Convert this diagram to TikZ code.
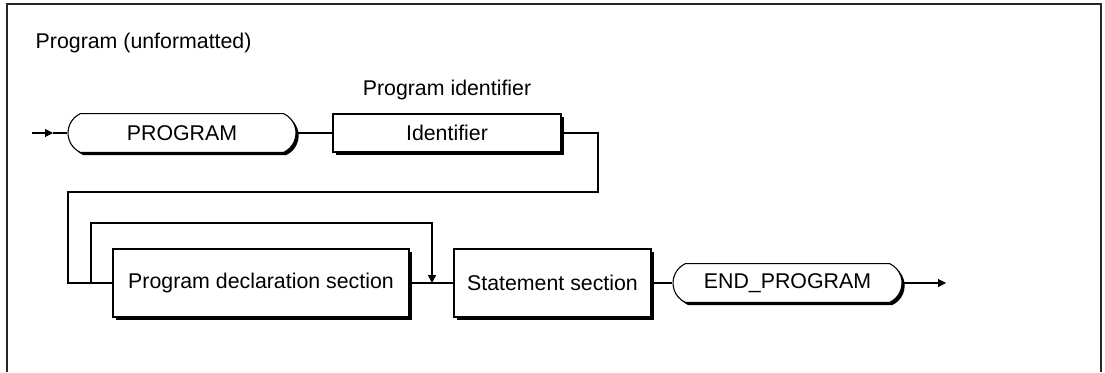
\documentclass[tikz,border=0pt]{standalone}
\usepackage{fontspec}
\setmainfont{Liberation Sans}
\usetikzlibrary{shapes.misc,shadows,arrows.meta}
\begin{document}
\begin{tikzpicture}[x=0.75pt,y=-0.75pt,
  font=\fontsize{16}{19}\selectfont,
  conn/.style={line width=0.8pt,draw=black},
  arr/.style={conn,-{Triangle[length=6pt,width=6pt]}},
  shad/.style={drop shadow={shadow xshift=2pt,shadow yshift=-2pt,opacity=1,fill=black}},
  nterm/.style={draw,line width=0.8pt,fill=white,shad,rectangle,inner sep=0pt,minimum height=51pt},
  term/.style={draw,line width=0.8pt,fill=white,shad,rounded rectangle,rounded rectangle arc length=130,inner sep=0pt,minimum height=29pt},
  frame/.style={line width=1pt,draw=black!85}]
\useasboundingbox (0,0) rectangle (1105,372);
\draw[frame] (7,372) -- (7,4) -- (1101,4) -- (1101,372);
\node[anchor=base west] (title) at (31,48) {Program (unformatted)};

\node[term,minimum width=171pt] (prog) at (182,133) {PROGRAM};
\node[nterm,minimum width=171pt,minimum height=28.5pt] (ident) at (447,133) {Identifier};
\node[anchor=base] (identlbl) at (447,95) {Program identifier};
\node[nterm,minimum width=222pt] (decl) at (261,283) {Program declaration section};
\node[nterm,minimum width=147.75pt] (stmt) at (552.5,283) {Statement section};
\node[term,minimum width=171.75pt] (endp) at (787.5,283) {END\_PROGRAM};

\coordinate (s) at (32,133);
\coordinate (sm) at (53,133);
\coordinate (r2) at (598,192);
\coordinate (l2) at (68,192);
\coordinate (lp) at (91,283);
\coordinate (j) at (432,283);
\coordinate (e) at (946,283);

\draw[arr] (s) -- (sm);
\draw[conn] (sm) -- (prog.west);
\draw[conn] (prog.east) -- (ident.west);
\draw[conn] (ident.east) -| (r2) -- (l2) |- (decl.west);
\draw[arr] (lp) -- ++(0,-60) -| (j);
\draw[conn] (decl.east) -- (stmt.west);
\draw[conn] (stmt.east) -- (endp.west);
\draw[arr] (endp.east) -- (e);
\end{tikzpicture}
\end{document}
